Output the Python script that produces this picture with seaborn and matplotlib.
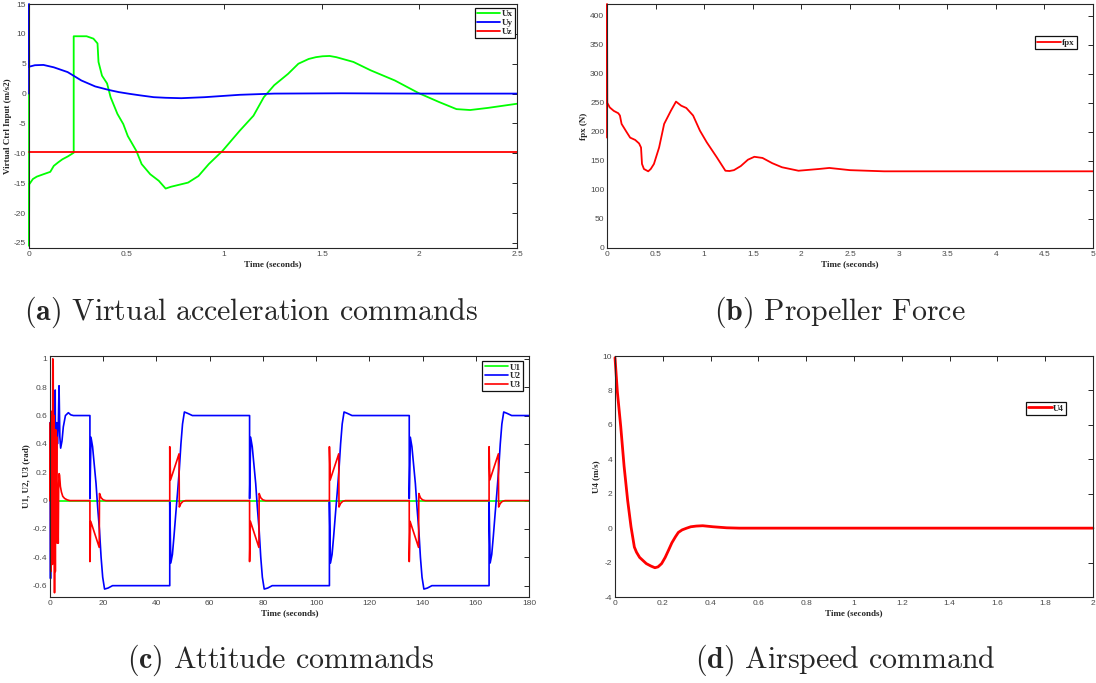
import numpy as np
import pandas as pd
import matplotlib
matplotlib.use("Agg")
import matplotlib.pyplot as plt
import seaborn as sns

# ---------------- data ----------------
# (a) virtual acceleration commands
t_ux = [0, 0, 0.001, 0.02, 0.04, 0.074, 0.109, 0.127, 0.15, 0.171, 0.20, 0.229, 0.229,
        0.295, 0.33, 0.351, 0.356, 0.374, 0.40, 0.418, 0.453, 0.483, 0.506, 0.55, 0.577,
        0.621, 0.665, 0.70, 0.727, 0.815, 0.868, 0.921, 0.991, 1.08, 1.15, 1.203, 1.256,
        1.327, 1.38, 1.433, 1.47, 1.504, 1.54, 1.574, 1.662, 1.75, 1.874, 1.997, 2.10,
        2.19, 2.26, 2.35, 2.5]
ux = [0, -25.5, -15.2, -14.3, -13.9, -13.5, -13.1, -12.1, -11.5, -11.0, -10.5, -9.9, 9.6,
      9.6, 9.2, 8.4, 5.3, 3.0, 1.7, -0.6, -3.4, -5.1, -7.1, -9.6, -11.8,
      -13.5, -14.6, -15.9, -15.6, -14.9, -13.8, -11.8, -9.6, -6.2, -3.7, -0.6, 1.4,
      3.3, 5.0, 5.8, 6.1, 6.25, 6.3, 6.1, 5.3, 3.9, 2.2, 0.07, -1.4,
      -2.6, -2.75, -2.4, -1.7]

t_uy = [0, 0, 0.001, 0.03, 0.074, 0.127, 0.198, 0.268, 0.339, 0.41, 0.46, 0.515, 0.57,
        0.639, 0.70, 0.78, 0.90, 1.08, 1.256, 1.6, 2.0, 2.5]
uy = [0, 15, 4.5, 4.75, 4.8, 4.4, 3.6, 2.2, 1.2, 0.6, 0.25, -0.04, -0.3,
      -0.6, -0.7, -0.77, -0.6, -0.2, 0.0, 0.05, 0.0, 0.0]

t_uz = [0, 2.5]
uz = [-9.8, -9.8]

# (b) propeller force
t_fpx = [0, 0, 0.003, 0.028, 0.07, 0.116, 0.133, 0.15, 0.20, 0.238, 0.29, 0.33, 0.35,
         0.36, 0.38, 0.424, 0.45, 0.483, 0.536, 0.588, 0.658, 0.71, 0.763, 0.816, 0.886,
         0.956, 1.026, 1.13, 1.218, 1.26, 1.306, 1.376, 1.45, 1.516, 1.60, 1.70, 1.80,
         1.97, 2.18, 2.287, 2.5, 2.85, 5.0]
fpx = [190, 420, 250, 242, 236, 232, 228, 213.6, 200, 190, 186, 180, 173,
       144.7, 136, 132, 136, 144.7, 173, 213.6, 236.5, 252, 245, 241, 228,
       202, 182, 156, 133, 132.5, 134, 141, 152, 157, 155, 146, 139,
       133, 136, 137.8, 134, 132, 132]

# (c) attitude commands
t_u1 = [0, 180]
u1 = [0, 0]

t_u2_start = [0, 0.2, 0.4, 0.6, 0.8, 1.0, 1.3, 1.6, 1.95, 2.2, 2.5, 2.8, 3.1, 3.4, 3.7,
              4.0, 4.5, 5.0, 5.8, 6.9, 7.8, 8.8]
u2_start = [0.55, -0.55, 0.6, -0.45, 0.6, -0.2, -0.42, 0.5, 0.78, -0.1, 0.55, 0.4, 0.52,
            0.81, 0.45, 0.37, 0.42, 0.52, 0.6, 0.62, 0.605, 0.6]
fall_times = [15, 75, 135]
rise_times = [45, 105, 165]
dt_u2 = [0, 0, 0.4, 1.0, 1.6, 2.3, 2.9, 3.6, 4.2, 4.8, 5.5, 6.8, 8.5]
u2_fall = [0.6, 0.014, 0.447, 0.38, 0.26, 0.12, -0.045, -0.21, -0.4, -0.54, -0.624, -0.617, -0.6]
u2_rise = [-0.6, -0.01, -0.44, -0.38, -0.25, -0.085, 0.05, 0.22, 0.4, 0.54, 0.625, 0.615, 0.6]

t_u3_start = [0, 0.15, 0.3, 0.45, 0.6, 0.75, 0.9, 1.05, 1.2, 1.35, 1.5, 1.7, 1.85, 2.0,
              2.15, 2.3, 2.5, 2.7, 2.9, 3.1, 3.25, 3.4, 3.6, 3.9, 4.3, 4.8, 5.5, 6.5, 7.5]
u3_start = [0, 0.55, -0.5, 0.63, -0.3, 0.6, -0.45, 1.0, 0.95, -0.2, 0.6, -0.65, 0.3, -0.5,
            0.5, -0.1, 0.45, -0.3, 0.0, -0.3, 0.1, 0.19, 0.18, 0.1, 0.06, 0.03, 0.015, 0.005, 0]
dt_u3 = [0, 0, 0.3, 3.5, 3.6, 4.2, 5.0, 6.0]
u3_fall = [0, -0.43, -0.146, -0.33, 0.05, 0.02, 0.005, 0]
u3_rise = [0, 0.38, 0.146, 0.33, -0.045, -0.02, -0.005, 0]

# (d) airspeed command
t_u4 = [0, 0.01, 0.024, 0.038, 0.053, 0.067, 0.081, 0.09, 0.103, 0.131, 0.15, 0.167,
        0.18, 0.195, 0.21, 0.224, 0.238, 0.253, 0.265, 0.281, 0.30, 0.317, 0.34, 0.367,
        0.41, 0.467, 0.52, 2.0]
u4 = [9.9, 7.9, 5.9, 3.6, 1.6, 0.08, -1.1, -1.4, -1.7, -2.06, -2.2, -2.3,
      -2.25, -2.06, -1.7, -1.28, -0.85, -0.5, -0.25, -0.1, 0.0, 0.08, 0.12, 0.14,
      0.08, 0.02, 0.0, 0.0]

captions = [r"$\mathbf{(a)}$ Virtual acceleration commands",
            r"$\mathbf{(b)}$ Propeller Force",
            r"$\mathbf{(c)}$ Attitude commands",
            r"$\mathbf{(d)}$ Airspeed command"]


def switching_series(t0, v0, t_end, dt, fall, rise):
    """Place the switching transients at each switch time after the start segment."""
    t, v = list(t0), list(v0)
    events = sorted([(s, fall) for s in fall_times] + [(s, rise) for s in rise_times])
    for s, shape in events:
        t += [s + d for d in dt]
        v += list(shape)
    t.append(t_end)
    v.append(v[-1])
    return t, v


t_u2, u2 = switching_series(t_u2_start, u2_start, 180, dt_u2, u2_fall, u2_rise)
t_u3, u3 = switching_series(t_u3_start, u3_start, 180, dt_u3, u3_fall, u3_rise)

# ---------------- style ----------------
sns.set_style("white")
plt.rcParams["font.family"] = ["Liberation Sans", "DejaVu Sans"]
plt.rcParams["mathtext.fontset"] = "cm"
plt.rcParams["axes.unicode_minus"] = False

W, H = 1096, 683
fig = plt.figure(figsize=(W / 100, H / 100), dpi=100)

GREEN, BLUE, RED = "#00ff00", "#0000ff", "#ff0000"
serif_bold = dict(family="Liberation Serif", weight="bold", size=6.5)


def axes_px(x0, y0, x1, y1):
    return fig.add_axes([x0 / W, 1 - y1 / H, (x1 - x0) / W, (y1 - y0) / H])


def style_axes(ax, xlim, ylim, xticks, yticks, ylabel):
    ax.set_xlim(*xlim)
    ax.set_ylim(*ylim)
    ax.set_xticks(xticks)
    ax.set_yticks(yticks)
    ax.set_xticklabels([f"{v:g}" for v in xticks])
    ax.set_yticklabels([f"{v:g}" for v in yticks])
    ax.tick_params(direction="in", length=3.5, width=0.7, top=True, right=True,
                   labelsize=6, labelcolor="#4a4a4a", color="#262626", pad=2)
    for s in ax.spines.values():
        s.set_color("#262626")
        s.set_linewidth(0.8)
    ax.set_xlabel("Time (seconds)", fontdict=serif_bold, labelpad=1.5)
    ax.set_ylabel(ylabel, fontdict=serif_bold, labelpad=1.5)
    ax.grid(False)
    # curves starting on the y-axis stay fully visible on the spine
    for line in ax.lines:
        line.set_clip_on(False)


def add_legend(ax, anchor):
    leg = ax.legend(loc="upper right", bbox_to_anchor=anchor, frameon=True,
                    fancybox=False, framealpha=1, edgecolor="#111111",
                    prop=dict(family="Liberation Serif", weight="bold", size=6.5),
                    handlelength=2.6, handletextpad=0.15, borderpad=0.25,
                    labelspacing=0.05, borderaxespad=0)
    leg.get_frame().set_linewidth(0.9)


def draw(ax, t, v, color, label, lw):
    sns.lineplot(x=t, y=v, ax=ax, color=color, label=label, lw=lw,
                 estimator=None, sort=False)


# (a)
ax_a = axes_px(29, 4, 517, 248)
draw(ax_a, t_ux, ux, GREEN, "Ux", 1.3)
draw(ax_a, t_uy, uy, BLUE, "Uy", 1.3)
draw(ax_a, t_uz, uz, RED, "Uz", 1.3)
style_axes(ax_a, (0, 2.5), (-25.85, 15), np.arange(0, 2.51, 0.5),
           np.arange(-25, 16, 5), "Virtual Ctrl Input (m/s2)")
add_legend(ax_a, (0.996, 0.984))

# (b)
ax_b = axes_px(607, 4, 1093, 248)
draw(ax_b, t_fpx, fpx, RED, "fpx", 1.3)
style_axes(ax_b, (0, 5), (0, 420), np.arange(0, 5.01, 0.5),
           np.arange(0, 401, 50), "fpx (N)")
add_legend(ax_b, (0.967, 0.868))

# (c)
ax_c = axes_px(50, 356, 529, 597)
draw(ax_c, t_u1, u1, GREEN, "U1", 1.2)
draw(ax_c, t_u2, u2, BLUE, "U2", 1.2)
draw(ax_c, t_u3, u3, RED, "U3", 1.2)
style_axes(ax_c, (0, 180), (-0.68, 1.02), np.arange(0, 181, 20),
           np.round(np.arange(-0.6, 1.01, 0.2), 1), "U1, U2, U3 (rad)")
add_legend(ax_c, (0.987, 0.979))

# (d)
ax_d = axes_px(615, 356, 1093, 597)
draw(ax_d, t_u4, u4, RED, "U4", 2.0)
style_axes(ax_d, (0, 2), (-4, 10), np.round(np.arange(0, 2.01, 0.2), 1),
           np.arange(-4, 11, 2), "U4 (m/s)")
add_legend(ax_d, (0.9435, 0.809))

# sub-figure captions
for (cx, cy), text in zip([(251, 312), (840, 312), (280, 660), (845, 660)], captions):
    fig.text(cx / W, 1 - cy / H, text, ha="center", va="center",
             fontfamily="cmr10", fontsize=21.5)

fig.savefig("out.png", dpi=100)
